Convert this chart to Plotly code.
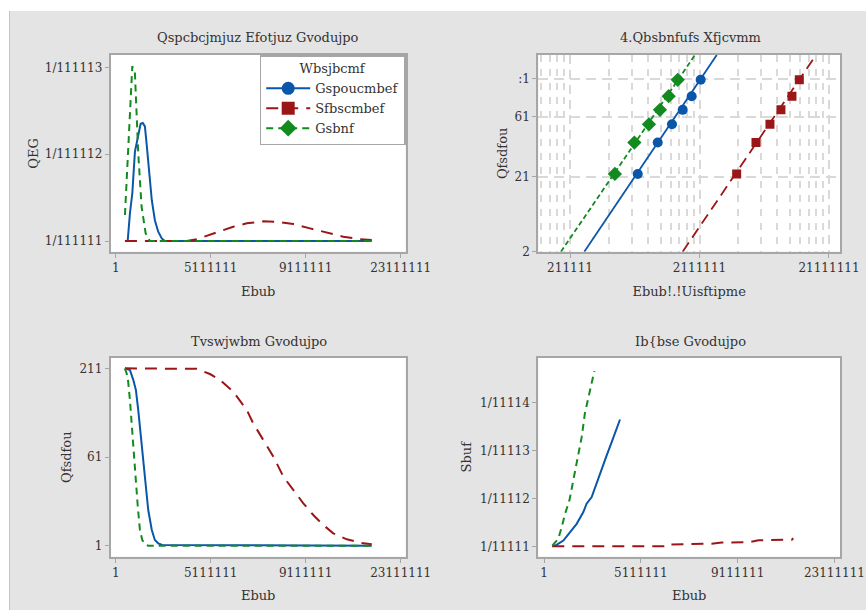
import numpy as np
import plotly.graph_objects as go

W, H = 866, 610
FONT = "DejaVu Serif"
TXT = "#333333"
FRAME = "#a6a6a6"

BLUE = "#0a56a8"
RED = "#9b1616"
GREEN = "#138a20"

series_names = ["Gspoucmbef", "Sfbscmbef", "Gsbnf"]

# ---- Probability density function ----
pdf_blue_x = [0.39e6, 0.505e6, 0.60e6, 0.70e6, 0.81e6, 0.93e6, 1.05e6, 1.14e6, 1.23e6, 1.30e6,
              1.40e6, 1.52e6, 1.65e6, 1.79e6, 1.94e6, 2.07e6, 10.78e6]
pdf_blue_y = [0, 0, 0.32e-6, 0.55e-6, 1.03e-6, 1.20e-6, 1.35e-6, 1.36e-6, 1.32e-6, 1.125e-6,
              0.856e-6, 0.47e-6, 0.24e-6, 0.107e-6, 0.03e-6, 0, 0]
pdf_red_x = [0.39e6, 2.99e6, 3.41e6, 3.97e6, 4.39e6, 4.95e6, 5.52e6, 6.22e6, 6.78e6, 7.48e6,
             8.18e6, 8.88e6, 9.58e6, 10.29e6, 10.78e6]
pdf_red_y = [0, 0, 0.02e-6, 0.07e-6, 0.115e-6, 0.165e-6, 0.204e-6, 0.227e-6, 0.222e-6, 0.196e-6,
             0.146e-6, 0.096e-6, 0.05e-6, 0.02e-6, 0.012e-6]
pdf_green_x = [0.39e6, 0.70e6, 0.81e6, 0.95e6, 1.09e6, 1.26e6, 1.44e6, 10.78e6]
pdf_green_y = [0.30e-6, 2.016e-6, 1.93e-6, 1.01e-6, 0.395e-6, 0.09e-6, 0, 0]

# ---- Weibull probability plot (data - threshold vs percent) ----
wb_blue_x = [333600, 475700, 613000, 741700, 870000, 1021000]
wb_red_x = [1936000, 2730000, 3500000, 4255000, 5175000, 5900000]
wb_green_x = [222000, 314000, 407000, 495000, 578000, 679000]
wb_pct = [10.9, 26.6, 42.2, 57.8, 73.4, 89.1]
fit_blue_x, fit_red_x, fit_green_x = [128900, 1359000], [741000, 7940000], [85100, 922000]
fit_pct = [1.0, 99.2]

# ---- Survival function ----
sv_blue_x = [0.39e6, 0.60e6, 0.74e6, 0.85e6, 0.95e6, 1.05e6, 1.16e6, 1.26e6, 1.37e6, 1.52e6,
             1.65e6, 1.79e6, 1.96e6, 10.78e6]
sv_blue_y = [100, 99.1, 93.5, 87.8, 76.5, 63.4, 50.2, 35.2, 20.1, 8.9, 3.2, 1.35, 0.4, 0]
sv_red_x = [0.39e6, 3.41e6, 3.97e6, 4.39e6, 4.95e6, 5.52e6, 5.79e6, 6.22e6, 6.64e6, 7.06e6,
            7.48e6, 7.90e6, 8.32e6, 8.74e6, 9.16e6, 9.73e6, 10.29e6, 10.78e6]
sv_red_y = [100, 99.7, 96.8, 93.5, 86.9, 76.5, 69.0, 59.6, 50.2, 38.9, 31.4, 23.9, 17.3, 11.7,
            7.0, 3.6, 1.7, 0.8]
sv_green_x = [0.39e6, 0.505e6, 0.60e6, 0.70e6, 0.81e6, 0.93e6, 1.02e6, 1.12e6, 1.23e6, 1.37e6, 10.78e6]
sv_green_y = [100, 95.3, 82.2, 63.4, 40.8, 22.0, 8.9, 3.2, 0.8, 0, 0]

# ---- Hazard function ----
hz_blue_x = [0.343e6, 0.52e6, 0.80e6, 1.07e6, 1.35e6, 1.62e6, 1.76e6, 1.97e6, 2.18e6, 2.38e6,
             2.59e6, 2.80e6, 3.00e6, 3.14e6]
hz_blue_y = [0, 0.03e-5, 0.12e-5, 0.29e-5, 0.47e-5, 0.71e-5, 0.89e-5, 1.03e-5, 1.34e-5, 1.62e-5,
             1.90e-5, 2.18e-5, 2.46e-5, 2.65e-5]
hz_red_x = [0.343e6, 5.07e6, 5.14e6, 6.93e6, 7.34e6, 8.51e6, 8.86e6, 10.24e6, 10.30e6]
hz_red_y = [0, 0, 0.04e-5, 0.057e-5, 0.078e-5, 0.09e-5, 0.126e-5, 0.14e-5, 0.17e-5]
hz_green_x = [0.343e6, 0.59e6, 0.73e6, 0.87e6, 1.05e6, 1.21e6, 1.42e6, 1.56e6, 1.69e6, 1.83e6,
              1.97e6, 2.08e6]
hz_green_y = [0.015e-5, 0.155e-5, 0.40e-5, 0.68e-5, 0.96e-5, 1.38e-5, 1.87e-5, 2.29e-5, 2.78e-5,
              3.12e-5, 3.40e-5, 3.66e-5]

data_ticks = [0, 4e6, 8e6, 12e6]
data_ticktext = ["1", "5111111", "9111111", "23111111"]
pdf_ticks, pdf_ticktext = [0, 1e-6, 2e-6], ["1/111111", "1/111112", "1/111113"]
sv_ticks, sv_ticktext = [0, 50, 100], ["1", "61", "211"]
hz_ticks, hz_ticktext = [0, 1e-5, 2e-5, 3e-5], ["1/11111", "1/11112", "1/11113", "1/11114"]
wb_yticks, wb_yticktext = [1, 10, 50, 90], ["2", "21", "61", ":1"]
wb_xticks, wb_xticktext = [1e5, 1e6, 1e7], ["211111", "2111111", "21111111"]
wb_minor = [m * 10 ** e for e in (4, 5, 6) for m in range(2, 10) if 5.8e4 < m * 10 ** e < 1.2e7]


def weibull_scale(p):
    p = np.asarray(p, dtype=float) / 100.0
    return np.log(-np.log(1.0 - p))


styles = {
    "blue": dict(color=BLUE, width=2),
    "red": dict(color=RED, width=2, dash="12px,8px"),
    "green": dict(color=GREEN, width=2, dash="7px,5px"),
}

fig = go.Figure()


def add_line(x, y, style, xa, ya):
    fig.add_trace(go.Scatter(x=x, y=y, mode="lines", line=styles[style],
                             xaxis=xa, yaxis=ya, showlegend=False, hoverinfo="skip"))


# PDF
add_line(pdf_blue_x, pdf_blue_y, "blue", "x", "y")
add_line(pdf_red_x, pdf_red_y, "red", "x", "y")
add_line(pdf_green_x, pdf_green_y, "green", "x", "y")

# Weibull plot: fitted lines and plotted points
wb_lines = [(fit_blue_x, "blue"), (fit_red_x, "red"), (fit_green_x, "green")]
for fx, st in wb_lines:
    s = dict(styles[st])
    s["width"] = 1.8
    if st == "red":
        s["dash"] = "11px,6px"
    if st == "green":
        s["dash"] = "5px,3px"
    fig.add_trace(go.Scatter(x=fx, y=weibull_scale(fit_pct), mode="lines", line=s,
                             xaxis="x2", yaxis="y2", showlegend=False, hoverinfo="skip"))
wb_pts = [(wb_blue_x, BLUE, "circle", 10), (wb_red_x, RED, "square", 9),
          (wb_green_x, GREEN, "diamond", 11)]
for px, col, sym, sz in wb_pts:
    fig.add_trace(go.Scatter(x=px, y=weibull_scale(wb_pct), mode="markers",
                             marker=dict(color=col, symbol=sym, size=sz),
                             xaxis="x2", yaxis="y2", showlegend=False, hoverinfo="skip"))

# Survival
add_line(sv_blue_x, sv_blue_y, "blue", "x3", "y3")
add_line(sv_red_x, sv_red_y, "red", "x3", "y3")
add_line(sv_green_x, sv_green_y, "green", "x3", "y3")

# Hazard
add_line(hz_blue_x, hz_blue_y, "blue", "x4", "y4")
add_line(hz_red_x, hz_red_y, "red", "x4", "y4")
add_line(hz_green_x, hz_green_y, "green", "x4", "y4")

# legend entries
for name, st, sym in zip(series_names, ["blue", "red", "green"], ["circle", "square", "diamond"]):
    fig.add_trace(go.Scatter(x=[None], y=[None], mode="lines+markers", name=name,
                             line=styles[st], marker=dict(color=styles[st]["color"], symbol=sym, size=13),
                             xaxis="x", yaxis="y", showlegend=True))


def px_x(a, b):
    return [a / W, b / W]


def px_y(top, bottom):
    return [1 - bottom / H, 1 - top / H]


tickfont = dict(family=FONT, size=12, color=TXT)
titlefont = dict(family=FONT, size=13, color=TXT)
common = dict(showline=True, mirror=True, linecolor=FRAME, linewidth=2, ticks="outside",
              ticklen=4, tickcolor=FRAME, tickwidth=1, tickfont=tickfont, zeroline=False,
              tickmode="array", automargin=False)
nogrid = dict(showgrid=False)

fig.update_layout(
    width=W, height=H, margin=dict(l=0, r=0, t=0, b=0, autoexpand=False),
    paper_bgcolor="#e4e4e4", plot_bgcolor="white",
    font=dict(family=FONT, size=12, color=TXT),
    xaxis=dict(domain=px_x(110.7, 405.7), anchor="y", range=[-0.21e6, 12.21e6],
               tickvals=data_ticks, ticktext=data_ticktext,
               title=dict(text="Ebub", font=titlefont, standoff=13), **common, **nogrid),
    yaxis=dict(domain=px_y(55, 251.7), anchor="x", range=[-0.123e-6, 2.143e-6],
               tickvals=pdf_ticks, ticktext=pdf_ticktext,
               title=dict(text="QEG", font=titlefont, standoff=3), **common, **nogrid),
    xaxis2=dict(domain=px_x(538.3, 840), anchor="y2", type="log", range=[4.755, 7.085],
                tickvals=wb_xticks, ticktext=wb_xticktext,
                showgrid=True, gridcolor="#d9d9d9", gridwidth=1.5, griddash="9px,6px",
                minor=dict(tickmode="array", tickvals=wb_minor, showgrid=True, gridcolor="#d9d9d9",
                           gridwidth=1.5, griddash="7px,7px", ticks=""),
                title=dict(text="Ebub!.!Uisftipme", font=titlefont, standoff=13), **common),
    yaxis2=dict(domain=px_y(55, 251.7), anchor="x2",
                range=[float(weibull_scale(1.0)), float(weibull_scale(99.2))],
                tickvals=weibull_scale(wb_yticks), ticktext=wb_yticktext,
                showgrid=True, gridcolor="#d9d9d9", gridwidth=1.5, griddash="10px,6px",
                title=dict(text="Qfsdfou", font=titlefont, standoff=4), **common),
    xaxis3=dict(domain=px_x(110.7, 405.7), anchor="y3", range=[-0.21e6, 12.21e6],
                tickvals=data_ticks, ticktext=data_ticktext,
                title=dict(text="Ebub", font=titlefont, standoff=12), **common, **nogrid),
    yaxis3=dict(domain=px_y(357.7, 556.7), anchor="x3", range=[-6.2, 106.0],
                tickvals=sv_ticks, ticktext=sv_ticktext,
                title=dict(text="Qfsdfou", font=titlefont, standoff=5), **common, **nogrid),
    xaxis4=dict(domain=px_x(538.3, 840), anchor="y4", range=[-0.2355e6, 12.23e6],
                tickvals=data_ticks, ticktext=data_ticktext,
                title=dict(text="Ebub", font=titlefont, standoff=12), **common, **nogrid),
    yaxis4=dict(domain=px_y(357.7, 556.7), anchor="x4", range=[-2.16e-6, 3.94e-5],
                tickvals=hz_ticks, ticktext=hz_ticktext,
                title=dict(text="Sbuf", font=titlefont, standoff=5), **common, **nogrid),
    legend=dict(x=405.7 / W, xanchor="right", y=1 - 55 / H, yanchor="top",
                bgcolor="white", bordercolor=FRAME, borderwidth=1.5, itemwidth=44,
                font=dict(family=FONT, size=13, color=TXT),
                title=dict(text="Wbsjbcmf", side="top center", font=dict(family=FONT, size=13, color=TXT))),
)

# panel titles
titles = [("Qspcbcjmjuz Efotjuz Gvodujpo", 258, 37), ("4.Qbsbnfufs Xfjcvmm", 690, 37),
          ("Tvswjwbm Gvodujpo", 259, 341), ("Ib{bse Gvodujpo", 690, 341)]
for text, cx, cy in titles:
    fig.add_annotation(text=text, x=cx / W, y=1 - cy / H, xref="paper", yref="paper",
                       showarrow=False, xanchor="center", yanchor="middle",
                       font=dict(family=FONT, size=13, color=TXT))

# white page margin with a thin border on the left
fig.add_shape(type="rect", xref="paper", yref="paper", x0=0, x1=1, y0=1 - 11 / H, y1=1,
              fillcolor="white", line_width=0, layer="above")
fig.add_shape(type="rect", xref="paper", yref="paper", x0=0, x1=9 / W, y0=0, y1=1,
              fillcolor="white", line_width=0, layer="above")
fig.add_shape(type="line", xref="paper", yref="paper", x0=9.5 / W, x1=9.5 / W, y0=0, y1=1 - 11 / H,
              line=dict(color="#c4c4c4", width=1), layer="above")

fig.write_html("out.html")
